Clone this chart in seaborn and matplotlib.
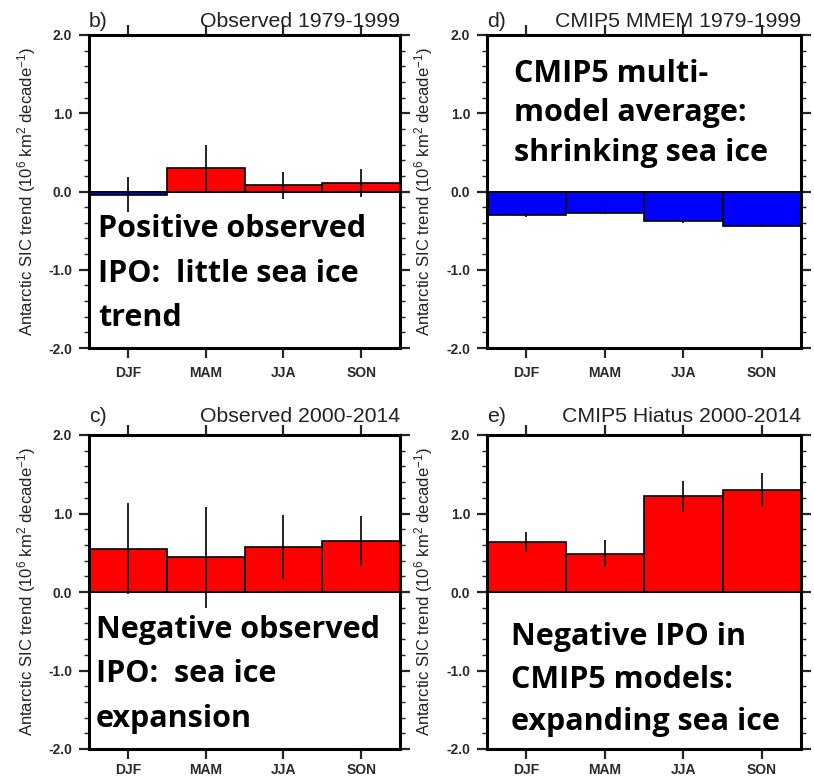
import numpy as np
import pandas as pd
import matplotlib
matplotlib.use("Agg")
import matplotlib.pyplot as plt
import seaborn as sns
from matplotlib.ticker import MultipleLocator, FormatStrFormatter

# --- datos ---------------------------------------------------------------
seasons = ["DJF", "MAM", "JJA", "SON"]

obs_7999 = [-0.04, 0.30, 0.08, 0.11]
obs_7999_err = [0.22, 0.29, 0.17, 0.18]

mmem_7999 = [-0.30, -0.27, -0.38, -0.44]
mmem_7999_err = [0.02, 0.02, 0.02, 0.02]

obs_0014 = [0.55, 0.44, 0.57, 0.65]
obs_0014_err = [0.58, 0.64, 0.41, 0.32]

hiatus_0014 = [0.64, 0.49, 1.22, 1.30]
hiatus_0014_err = [0.13, 0.17, 0.20, 0.21]

panel_letters = ["b)", "d)", "c)", "e)"]
panel_titles = ["Observed 1979-1999", "CMIP5 MMEM 1979-1999",
                "Observed 2000-2014", "CMIP5 Hiatus 2000-2014"]
notes = [
    ["Positive observed", "IPO:  little sea ice", "trend"],
    ["CMIP5 multi-", "model average:", "shrinking sea ice"],
    ["Negative observed", "IPO:  sea ice", "expansion"],
    ["Negative IPO in", "CMIP5 models:", "expanding sea ice"],
]
ylabel = r"Antarctic SIC trend (10$^{6}$ km$^{2}$ decade$^{-1}$)"

# --- estilo ---------------------------------------------------------------
sns.set_style("ticks")
plt.rcParams["font.family"] = ["Liberation Sans", "DejaVu Sans"]
plt.rcParams["mathtext.default"] = "regular"

W, H = 814, 780
fig = plt.figure(figsize=(W / 100, H / 100), dpi=100)

# (left, top, width, height) en pixeles
rects = [(89, 35, 311, 313), (487, 35, 314, 313),
         (89, 435, 311, 314), (487, 435, 314, 314)]
title_pads = [5.5, 5.5, 9.0, 9.0]
xlabel_pads = [6, 6, 3, 3]
# (x, primera linea base, paso) en pixeles para las notas
note_pos = [(98, 237, 44.5), (514, 82, 39.5), (96, 638, 44.5), (511, 645, 42.5)]

panels = [(obs_7999, obs_7999_err), (mmem_7999, mmem_7999_err),
          (obs_0014, obs_0014_err), (hiatus_0014, hiatus_0014_err)]

for i, (vals, errs) in enumerate(panels):
    l, t, w, h = rects[i]
    ax = fig.add_axes([l / W, 1 - (t + h) / H, w / W, h / H])

    df = pd.DataFrame({"season": seasons, "trend": vals})
    colors = {s: ("#ff0000" if v >= 0 else "#0000ff") for s, v in zip(seasons, vals)}
    sns.barplot(data=df, x="season", y="trend", hue="season", palette=colors,
                order=seasons, hue_order=seasons, width=1.0, errorbar=None,
                edgecolor="black", linewidth=1.2, saturation=1, legend=False, ax=ax)
    ax.errorbar(np.arange(len(seasons)), vals, yerr=errs, fmt="none",
                ecolor="black", elinewidth=1.2, capsize=0, zorder=5)
    ax.axhline(0, color="black", lw=1.2, zorder=4)

    ax.set_xlim(-0.5, len(seasons) - 0.5)
    ax.set_ylim(-2, 2)
    ax.yaxis.set_major_locator(MultipleLocator(1.0))
    ax.yaxis.set_minor_locator(MultipleLocator(0.2))
    ax.yaxis.set_major_formatter(FormatStrFormatter("%.1f"))
    ax.set_xlabel("")
    ax.set_ylabel(ylabel, fontsize=12, color="#222222")
    ax.yaxis.set_label_coords(-0.165, 0.5)

    for sp in ax.spines.values():
        sp.set_visible(True)
        sp.set_linewidth(2.2)
        sp.set_color("black")
    ax.tick_params(axis="both", which="major", direction="out", length=7,
                   width=1.6, top=True, right=True, labeltop=False, labelright=False)
    ax.tick_params(axis="y", which="minor", direction="out", length=3.5,
                   width=1.0, left=True, right=True)
    ax.tick_params(axis="x", which="minor", bottom=False, top=False)
    ax.tick_params(axis="x", pad=xlabel_pads[i])
    ax.tick_params(axis="y", pad=5)
    for lab in ax.get_xticklabels():
        lab.set_fontsize(10)
        lab.set_fontweight("bold")
        lab.set_color("#2a2a2a")
    for lab in ax.get_yticklabels():
        lab.set_fontsize(10)
        lab.set_fontweight("bold")
        lab.set_color("#2a2a2a")

    ax.set_title(panel_titles[i], loc="right", fontsize=15.3, pad=title_pads[i], color="#222222")
    ax.set_title(panel_letters[i], loc="left", fontsize=15.3, pad=title_pads[i], color="#222222")

    x0, y0, step = note_pos[i]
    for k, line in enumerate(notes[i]):
        fig.text(x0 / W, 1 - (y0 + k * step) / H, line, family="Open Sans",
                 fontweight="bold", fontsize=22, va="baseline", ha="left", color="black")

fig.savefig("out.png", dpi=100)
